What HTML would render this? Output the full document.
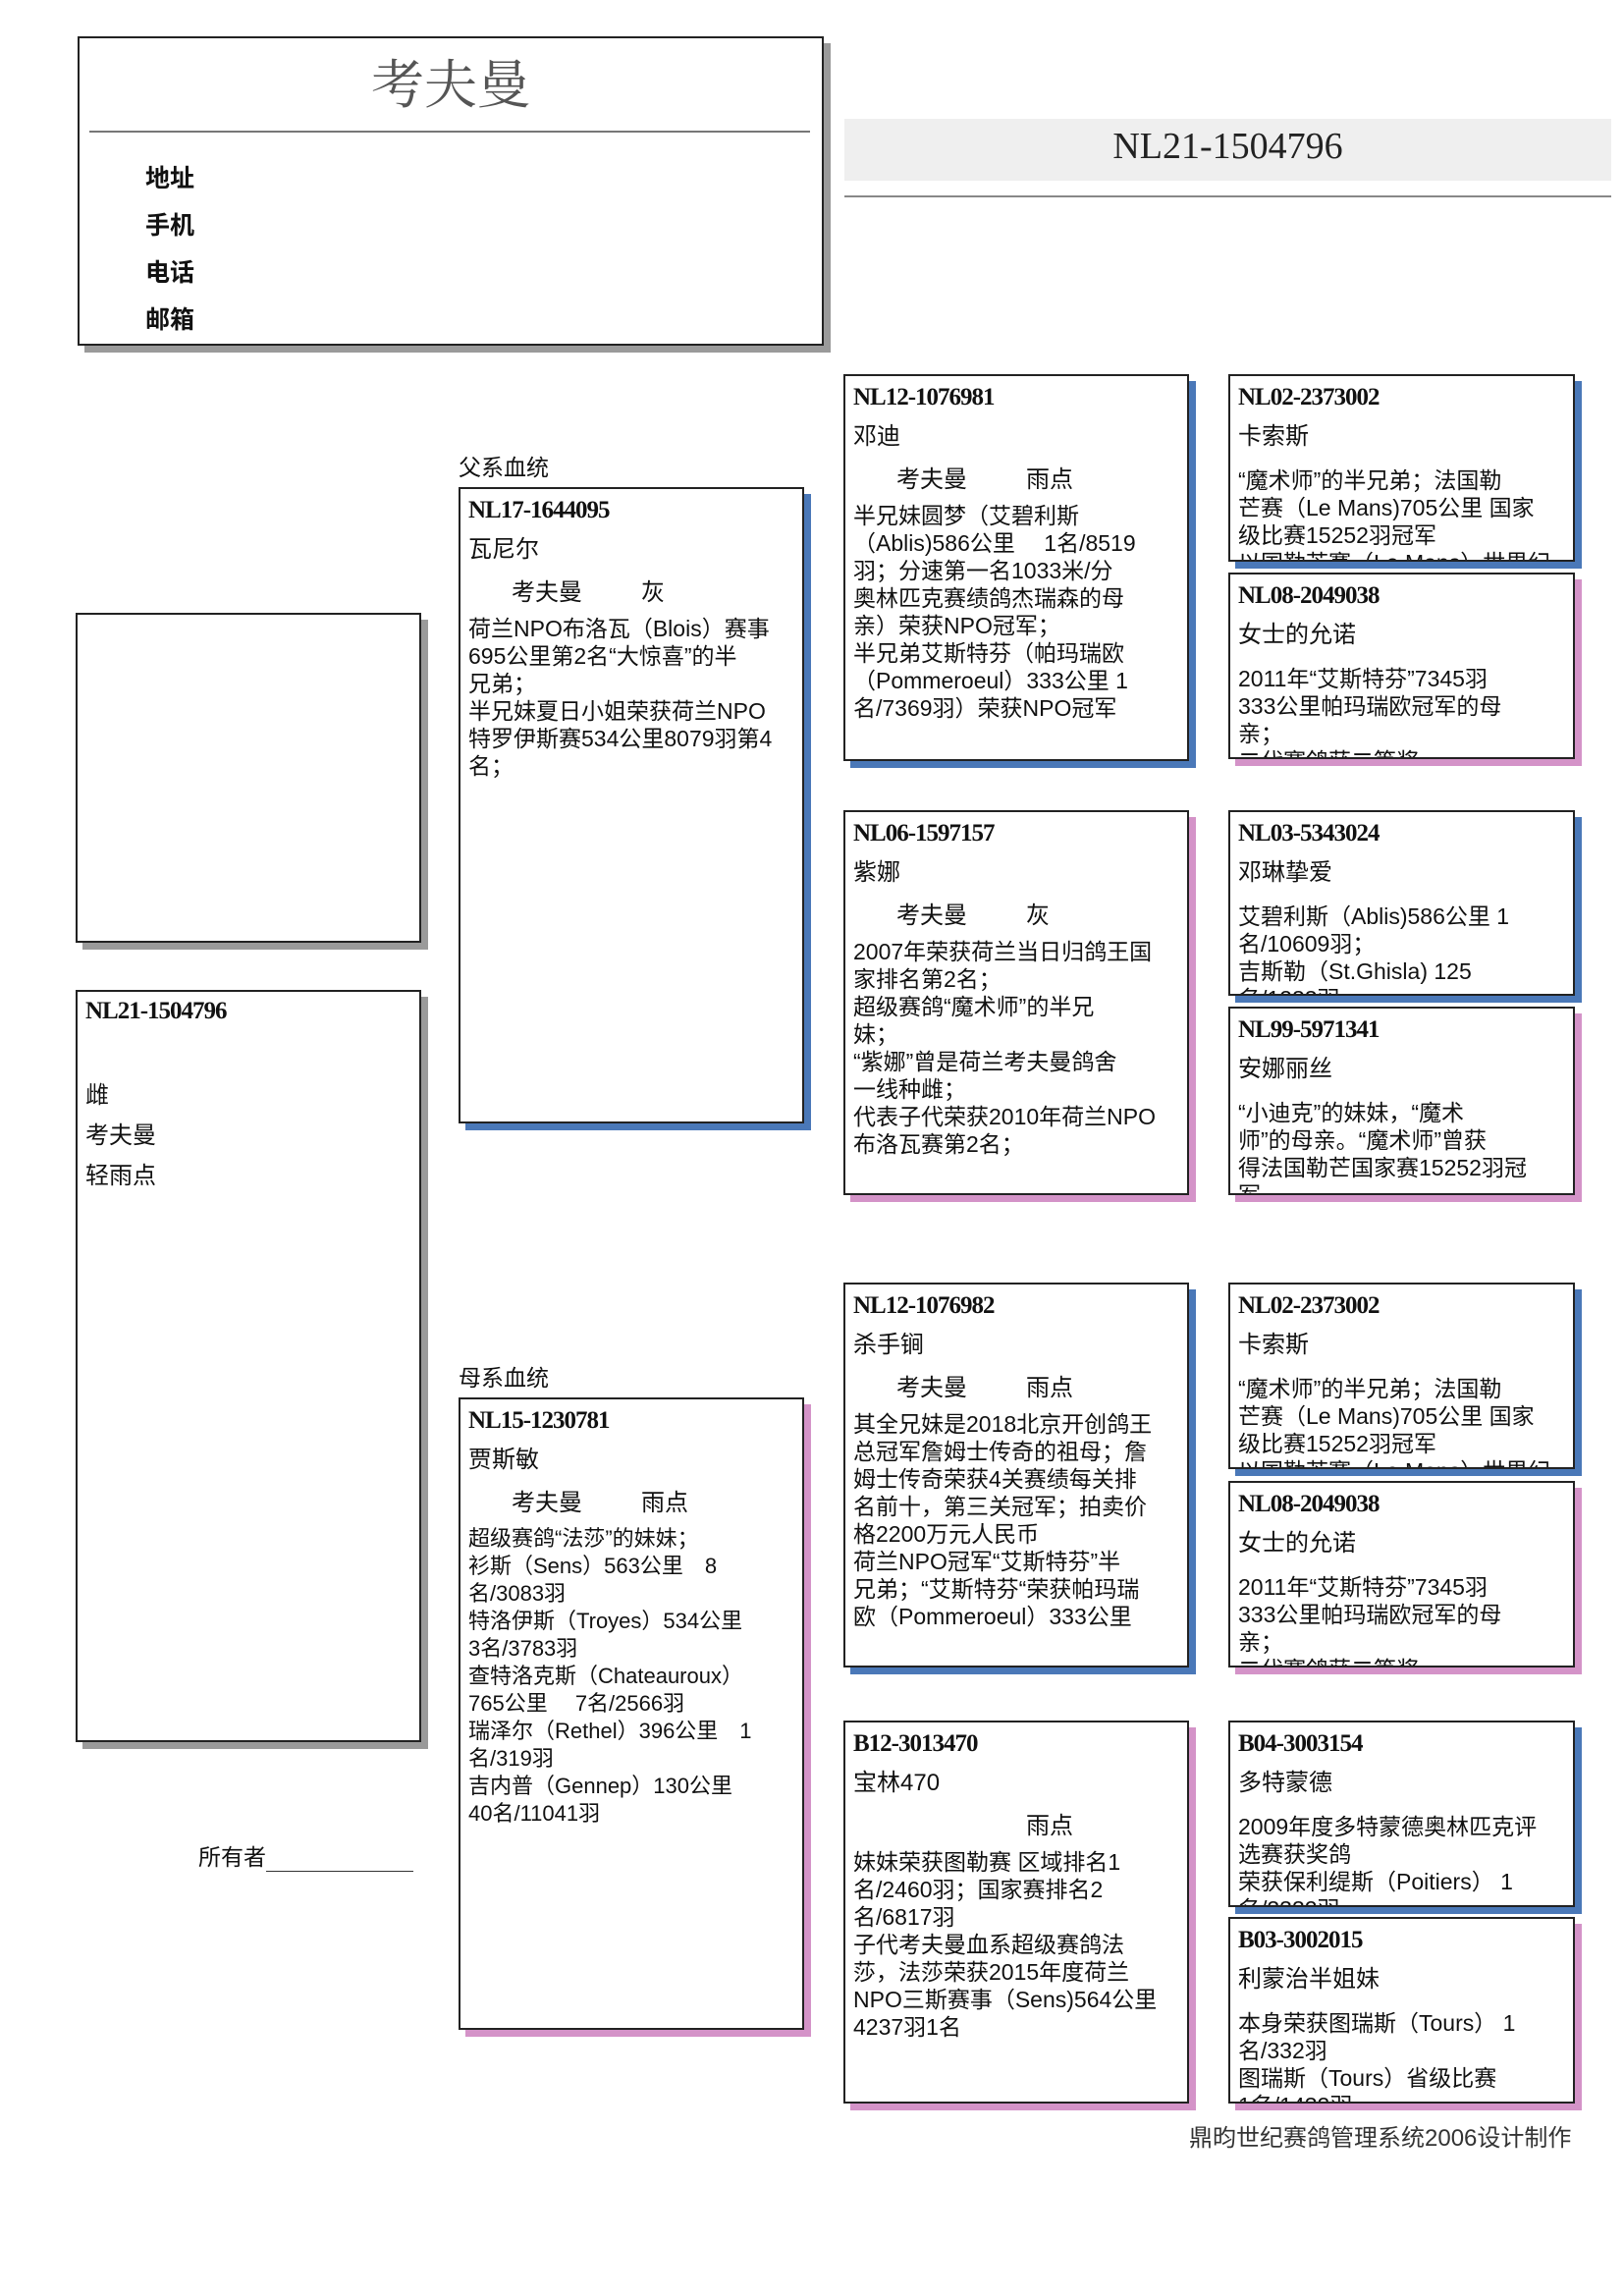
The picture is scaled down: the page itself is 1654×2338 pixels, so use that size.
<!DOCTYPE html>
<html><head><meta charset="utf-8">
<style>
body{margin:0;background:#fff;}
#p{position:relative;width:1654px;height:2338px;overflow:hidden;background:#fff;font-family:"Liberation Sans","Noto Sans CJK SC",sans-serif;color:#111;}
.a{position:absolute;}
.bx{position:absolute;border:2px solid #222;background:#fff;box-sizing:border-box;overflow:hidden;padding:4px 8px 0 8px;white-space:nowrap;}
.bl{box-shadow:7px 7px 0 #4a78b8;}
.pk{box-shadow:7px 7px 0 #d493c8;}
.gr{box-shadow:7px 7px 0 #9a9a9a;}
.id{font-family:"Liberation Serif","Noto Serif CJK SC",serif;font-weight:bold;font-size:25px;line-height:36px;letter-spacing:-1px;}
.nm{font-size:24px;line-height:44px;}
.br{font-size:24px;line-height:44px;padding-left:44px;}
.br span{display:inline-block;width:132px;}
.tx{font-size:23px;line-height:28px;}
.c4 .tx{margin-top:8px;}
</style></head><body><div id="p">

<!-- header -->
<div class="bx gr" style="left:79px;top:37px;width:760px;height:315px;"></div>
<div class="a" style="left:79px;top:44px;width:760px;text-align:center;font-family:'Liberation Serif','Noto Serif CJK SC',serif;font-size:54px;color:#555;">考夫曼</div>
<div class="a" style="left:91px;top:133px;width:734px;height:2px;background:#777;"></div>
<div class="a" style="left:148px;top:158px;font-size:25px;font-weight:bold;line-height:48px;">地址<br>手机<br>电话<br>邮箱</div>

<div class="a" style="left:860px;top:121px;width:781px;height:63px;background:#efefef;"></div>
<div class="a" style="left:860px;top:124px;width:781px;text-align:center;font-family:'Liberation Serif',serif;font-size:38px;line-height:50px;color:#222;">NL21-1504796</div>
<div class="a" style="left:860px;top:199px;width:781px;height:2px;background:#888;"></div>

<!-- left column -->
<div class="bx gr" style="left:77px;top:624px;width:352px;height:336px;"></div>
<div class="bx gr" style="left:77px;top:1008px;width:352px;height:766px;padding-top:2px;">
<div class="id">NL21-1504796</div>
<div style="font-size:24px;line-height:41px;margin-top:47px;">雌<br>考夫曼<br>轻雨点</div>
</div>
<div class="a" style="left:202px;top:1872px;font-size:23px;">所有者<span style="display:inline-block;width:150px;border-bottom:1px solid #333;">&nbsp;</span></div>

<!-- sire -->
<div class="a" style="left:467px;top:457px;font-size:23px;">父系血统</div>
<div class="bx bl" style="left:467px;top:496px;width:352px;height:648px;">
<div class="id">NL17-1644095</div><div class="nm">瓦尼尔</div>
<div class="br"><span>考夫曼</span>灰</div>
<div class="tx">荷兰NPO布洛瓦（Blois）赛事<br>695公里第2名“大惊喜”的半<br>兄弟；<br>半兄妹夏日小姐荣获荷兰NPO<br>特罗伊斯赛534公里8079羽第4<br>名；</div>
</div>

<!-- dam -->
<div class="a" style="left:467px;top:1384px;font-size:23px;">母系血统</div>
<div class="bx pk" style="left:467px;top:1423px;width:352px;height:644px;">
<div class="id">NL15-1230781</div><div class="nm">贾斯敏</div>
<div class="br"><span>考夫曼</span>雨点</div>
<div class="tx" style="font-size:22px;">超级赛鸽“法莎”的妹妹；<br>衫斯（Sens）563公里　8<br>名/3083羽<br>特洛伊斯（Troyes）534公里<br>3名/3783羽<br>查特洛克斯（Chateauroux）<br>765公里　 7名/2566羽<br>瑞泽尔（Rethel）396公里　1<br>名/319羽<br>吉内普（Gennep）130公里<br>40名/11041羽</div>
</div>

<!-- col3 -->
<div class="bx bl" style="left:859px;top:381px;width:352px;height:394px;">
<div class="id">NL12-1076981</div><div class="nm">邓迪</div>
<div class="br"><span>考夫曼</span>雨点</div>
<div class="tx">半兄妹圆梦（艾碧利斯<br>（Ablis)586公里　 1名/8519<br>羽；分速第一名1033米/分<br>奥林匹克赛绩鸽杰瑞森的母<br>亲）荣获NPO冠军；<br>半兄弟艾斯特芬（帕玛瑞欧<br>（Pommeroeul）333公里 1<br>名/7369羽）荣获NPO冠军</div>
</div>
<div class="bx pk" style="left:859px;top:825px;width:352px;height:392px;">
<div class="id">NL06-1597157</div><div class="nm">紫娜</div>
<div class="br"><span>考夫曼</span>灰</div>
<div class="tx">2007年荣获荷兰当日归鸽王国<br>家排名第2名；<br>超级赛鸽“魔术师”的半兄<br>妹；<br>“紫娜”曾是荷兰考夫曼鸽舍<br>一线种雌；<br>代表子代荣获2010年荷兰NPO<br>布洛瓦赛第2名；</div>
</div>
<div class="bx bl" style="left:859px;top:1306px;width:352px;height:392px;">
<div class="id">NL12-1076982</div><div class="nm">杀手锏</div>
<div class="br"><span>考夫曼</span>雨点</div>
<div class="tx">其全兄妹是2018北京开创鸽王<br>总冠军詹姆士传奇的祖母；詹<br>姆士传奇荣获4关赛绩每关排<br>名前十，第三关冠军；拍卖价<br>格2200万元人民币<br>荷兰NPO冠军“艾斯特芬”半<br>兄弟；“艾斯特芬“荣获帕玛瑞<br>欧（Pommeroeul）333公里</div>
</div>
<div class="bx pk" style="left:859px;top:1752px;width:352px;height:390px;">
<div class="id">B12-3013470</div><div class="nm">宝林470</div>
<div class="br"><span>&nbsp;</span>雨点</div>
<div class="tx">妹妹荣获图勒赛 区域排名1<br>名/2460羽；国家赛排名2<br>名/6817羽<br>子代考夫曼血系超级赛鸽法<br>莎，法莎荣获2015年度荷兰<br>NPO三斯赛事（Sens)564公里<br>4237羽1名</div>
</div>

<!-- col4 -->
<div class="bx bl c4" style="left:1251px;top:381px;width:353px;height:191px;">
<div class="id">NL02-2373002</div><div class="nm">卡索斯</div>
<div class="tx">“魔术师”的半兄弟；法国勒<br>芒赛（Le Mans)705公里 国家<br>级比赛15252羽冠军<br>以国勒芒赛（Le Mans）世界纪</div>
</div>
<div class="bx pk c4" style="left:1251px;top:583px;width:353px;height:190px;">
<div class="id">NL08-2049038</div><div class="nm">女士的允诺</div>
<div class="tx">2011年“艾斯特芬”7345羽<br>333公里帕玛瑞欧冠军的母<br>亲；<br>二代赛鸽获二等奖</div>
</div>
<div class="bx bl c4" style="left:1251px;top:825px;width:353px;height:189px;">
<div class="id">NL03-5343024</div><div class="nm">邓琳挚爱</div>
<div class="tx">艾碧利斯（Ablis)586公里 1<br>名/10609羽；<br>吉斯勒（St.Ghisla) 125<br>名/1233羽</div>
</div>
<div class="bx pk c4" style="left:1251px;top:1025px;width:353px;height:192px;">
<div class="id">NL99-5971341</div><div class="nm">安娜丽丝</div>
<div class="tx">“小迪克”的妹妹，“魔术<br>师”的母亲。“魔术师”曾获<br>得法国勒芒国家赛15252羽冠<br>军</div>
</div>
<div class="bx bl c4" style="left:1251px;top:1306px;width:353px;height:190px;">
<div class="id">NL02-2373002</div><div class="nm">卡索斯</div>
<div class="tx">“魔术师”的半兄弟；法国勒<br>芒赛（Le Mans)705公里 国家<br>级比赛15252羽冠军<br>以国勒芒赛（Le Mans）世界纪</div>
</div>
<div class="bx pk c4" style="left:1251px;top:1508px;width:353px;height:190px;">
<div class="id">NL08-2049038</div><div class="nm">女士的允诺</div>
<div class="tx">2011年“艾斯特芬”7345羽<br>333公里帕玛瑞欧冠军的母<br>亲；<br>二代赛鸽获二等奖</div>
</div>
<div class="bx bl c4" style="left:1251px;top:1752px;width:353px;height:190px;">
<div class="id">B04-3003154</div><div class="nm">多特蒙德</div>
<div class="tx">2009年度多特蒙德奥林匹克评<br>选赛获奖鸽<br>荣获保利缇斯（Poitiers） 1<br>名/3332羽</div>
</div>
<div class="bx pk c4" style="left:1251px;top:1952px;width:353px;height:190px;">
<div class="id">B03-3002015</div><div class="nm">利蒙治半姐妹</div>
<div class="tx">本身荣获图瑞斯（Tours） 1<br>名/332羽<br>图瑞斯（Tours）省级比赛<br>1名/1432羽</div>
</div>

<div class="a" style="left:1211px;top:2157px;font-size:24px;color:#333;">鼎昀世纪赛鸽管理系统2006设计制作</div>
</div></body></html>
